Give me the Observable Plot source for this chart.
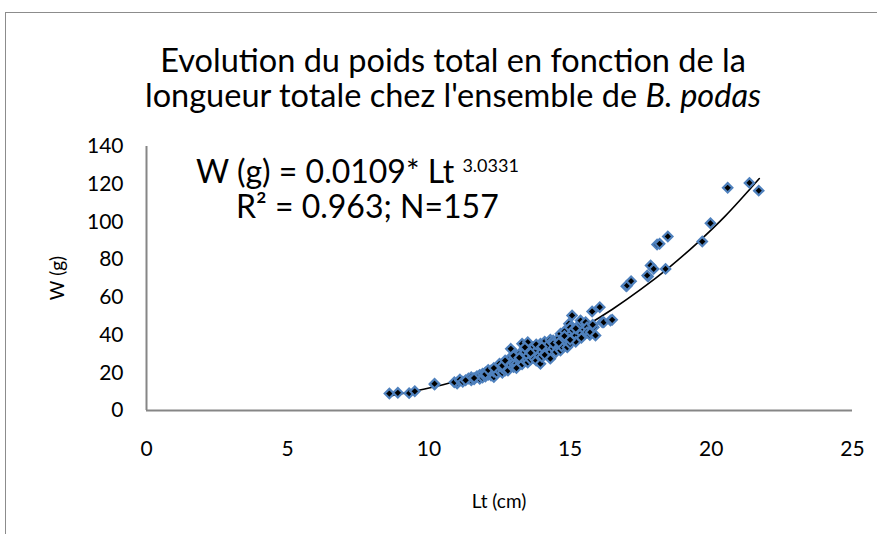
<!DOCTYPE html>
<html>
<head>
<meta charset="utf-8">
<script src="https://cdn.jsdelivr.net/npm/d3@7"></script>
<script src="https://cdn.jsdelivr.net/npm/@observablehq/plot@0.6"></script>
<style>
  body { margin: 0; background: #fff; }
  #root { position: relative; width: 877px; height: 534px; overflow: hidden; font-family: Lato, "Open Sans", sans-serif; color: #000; }
  .abs { position: absolute; white-space: nowrap; }
  #frameTop { left: 5px; top: 12px; width: 872px; height: 0; border-top: 1.5px solid #8c8c8c; }
  #frameLeft { left: 5px; top: 12px; width: 0; height: 522px; border-left: 1.5px solid #8c8c8c; }
  #title { left: 0; width: 906px; top: 42px; text-align: center; font-size: 32.5px; line-height: 35px; }
  .eq { font-size: 32px; line-height: 32px; }
  #chart { position: absolute; left: 0; top: 120px; }
</style>
</head>
<body>
<div id="root">
  <div id="frameTop" class="abs"></div>
  <div id="frameLeft" class="abs"></div>
  <div id="title" class="abs">Evolution du poids total en fonction de la<br>longueur totale chez l'ensemble de <i>B. podas</i></div>
  <div id="eq1" class="abs eq" style="left:196px; top:149px;">W (g) = 0.0109* Lt <span style="font-size:18px; vertical-align:11px;">3.0331</span></div>
  <div id="eq2" class="abs eq" style="left:236px; top:190px;">R² = 0.963; N=157</div>
  <div id="ylabel" class="abs" style="left:56px; top:278px; font-size:19px; transform: translate(-50%,-50%) rotate(-90deg);">W (g)</div>
  <div id="xlabel" class="abs" style="left:499px; top:500px; font-size:19px; transform: translate(-50%,-50%);">Lt (cm)</div>
  <div id="chart"></div>
</div>
<script>
// Tick values
const xTicks = [0, 5, 10, 15, 20, 25];
const yTicks = [0, 20, 40, 60, 80, 100, 120, 140];

const lengths = [
  8.6, 8.9, 9.3, 9.5, 10.2, 10.2, 11.0, 11.0, 10.9, 11.1, 11.1, 11.2, 11.4, 11.5, 11.5, 11.6, 11.7, 11.8, 11.8, 11.9,
  11.9, 12.0, 12.0, 12.1, 12.2, 12.2, 12.3, 12.3, 12.4, 12.4, 12.5, 12.5, 12.5, 12.6, 12.6, 12.7, 12.7, 12.8, 12.8, 12.8,
  12.9, 12.9, 12.9, 12.9, 13.0, 13.0, 13.0, 13.1, 13.1, 13.2, 13.2, 13.3, 13.3, 13.3, 13.4, 13.4, 13.4, 13.5, 13.5, 13.5,
  13.6, 13.6, 13.7, 13.7, 13.7, 13.8, 13.8, 13.9, 13.9, 13.95, 13.95, 14.0, 14.0, 14.1, 14.1, 14.2, 14.2, 14.3, 14.3, 14.3,
  14.4, 14.4, 14.5, 14.5, 14.6, 14.66, 14.66, 14.7, 14.7, 14.8, 14.8, 14.9, 14.9, 14.96, 15.0, 15.0, 15.0, 15.07, 15.1, 15.1,
  15.2, 15.2, 15.3, 15.37, 15.4, 15.5, 15.55, 15.6, 15.6, 15.7, 15.72, 15.78, 15.84, 15.9, 16.05, 16.14, 16.19, 16.43, 16.49,
  11.3, 11.6, 12.0, 12.1, 12.3, 12.6, 12.7, 13.0, 13.1, 13.2, 13.4, 13.6, 13.8, 14.0, 14.1, 14.4, 14.6, 14.8, 15.0, 15.2, 15.4, 15.8,
  16.99, 17.02, 17.16, 17.76, 17.73, 17.85, 17.96, 18.08, 18.17, 18.38, 18.46, 19.68, 19.97, 20.58, 21.35, 21.68
];
const weights = [
  9.0, 9.4, 9.2, 10.2, 13.8, 14.2, 14.3, 14.8, 15.0, 15.9, 16.4, 15.2, 17.0, 17.7, 16.0, 16.5, 18.2, 16.8, 18.9, 19.5,
  17.5, 18.0, 20.2, 19.0, 21.2, 18.5, 17.7, 20.5, 22.0, 19.8, 21.0, 23.5, 24.8, 20.0, 22.5, 21.2, 24.0, 25.5, 22.8, 21.2,
  28.3, 32.7, 26.0, 24.0, 27.0, 23.0, 25.0, 24.8, 29.5, 26.5, 30.0, 35.4, 27.5, 24.5, 26.5, 28.3, 31.0, 36.2, 29.0, 25.5,
  27.0, 32.0, 30.1, 28.0, 33.5, 31.5, 26.5, 29.0, 34.0, 35.4, 24.8, 31.0, 28.5, 33.0, 36.5, 30.0, 34.5, 30.9, 37.5, 27.5,
  37.1, 33.0, 35.0, 31.0, 38.5, 31.8, 40.7, 36.0, 34.0, 37.5, 42.0, 38.0, 33.5, 46.0, 35.4, 40.0, 44.0, 50.4, 38.9, 42.5,
  39.8, 36.5, 45.0, 47.7, 41.0, 43.0, 46.8, 44.2, 41.5, 40.0, 41.5, 52.5, 44.2, 39.8, 54.8, 46.8, 46.8, 47.7, 48.1,
  16.0, 17.2, 19.3, 21.5, 22.5, 23.8, 26.5, 29.0, 22.5, 28.0, 33.5, 30.5, 35.0, 33.8, 29.5, 35.5, 36.0, 39.5, 37.5, 43.5, 38.5, 45.5,
  65.9, 66.3, 68.6, 71.0, 71.6, 76.9, 75.1, 88.0, 88.4, 75.1, 92.3, 89.6, 99.3, 118.1, 120.7, 116.6
];

// Power trend line as drawn in the picture
const trendLt = [8.6, 9.5, 10.5, 11.5, 12.5, 13.5, 14.5, 15.5, 16.5, 17.5, 18.5, 19.5, 20.5, 21.7];
const trendW  = [7.6, 10.3, 13.7, 17.9, 23.1, 29.2, 36.2, 44.4, 53.7, 64.2, 75.8, 88.8, 103.2, 123.0];

const points = lengths.map((L, i) => ({L, W: weights[i]}));
const trend = trendLt.map((L, i) => ({L, W: trendW[i]}));

const chart = Plot.plot({
  width: 877,
  height: 414,
  marginLeft: 146,
  marginRight: 25,
  marginTop: 26,
  marginBottom: 124,
  style: { fontFamily: "Lato, 'Open Sans', sans-serif", fontSize: "21px", color: "#000", background: "transparent", overflow: "visible" },
  x: { domain: [0, 25] },
  y: { domain: [0, 140] },
  marks: [
    Plot.axisX({ ticks: xTicks, tickSize: 0, tickPadding: 31, label: null, tickFormat: d => String(d) }),
    Plot.axisY({ ticks: yTicks, tickSize: 0, tickPadding: 23, label: null, tickFormat: d => String(d) }),
    Plot.ruleY([0], { stroke: "#868686", strokeWidth: 2 }),
    Plot.ruleX([0], { stroke: "#868686", strokeWidth: 2 }),
    Plot.line(trend, { x: "L", y: "W", curve: "catmull-rom", stroke: "#000", strokeWidth: 1.6 }),
    Plot.dot(points, { x: "L", y: "W", symbol: "diamond2", r: 4.2, fill: "#000", stroke: "#4f81bd", strokeWidth: 2.2 })
  ]
});
document.getElementById("chart").appendChild(chart);
</script>
</body>
</html>
